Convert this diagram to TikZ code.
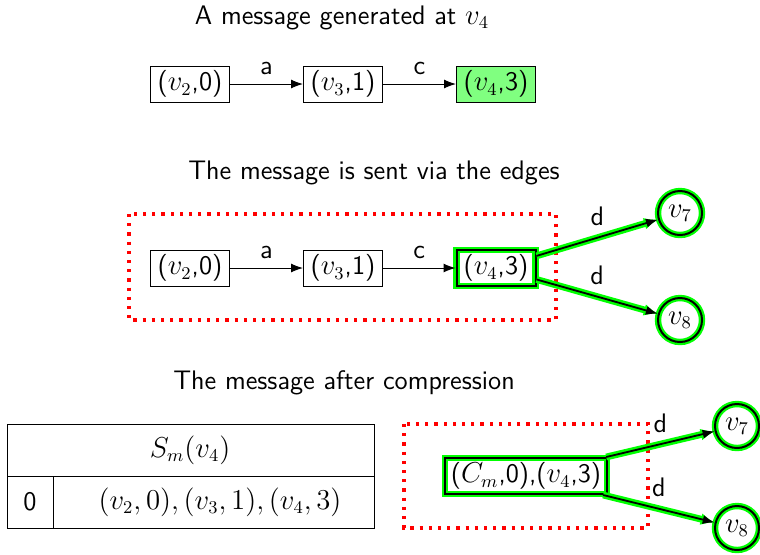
\documentclass[tikz,border=0pt]{standalone}
\usetikzlibrary{arrows.meta}
\renewcommand{\familydefault}{\sfdefault}
\begin{document}
\begin{tikzpicture}[x=0.5pt,y=-0.5pt,
  every node/.style={font=\fontsize{13.4}{16}\selectfont},
  pair/.style={draw, line width=0.5pt, minimum width=39.5pt, minimum height=18pt, inner sep=2pt},
  fresh/.style={pair, fill=green!50},
  glow/.style={preaction={draw=green, line width=3.2pt}, line width=1pt},
  vertex/.style={circle, draw, glow, minimum size=22pt, inner sep=0pt},
  hop/.style={-{Latex[length=6pt,width=4.5pt]}, line width=0.5pt},
  hophl/.style={-{Latex[length=6pt,width=4.5pt]}, line width=0.9pt,
    preaction={draw=green, line width=3.4pt, -{Latex[length=7pt,width=6pt]}}},
  frame/.style={draw=red, line width=1.6pt, dash pattern=on 1.6pt off 3pt},
  caption/.style={inner sep=0pt}]
\useasboundingbox (0,0) rectangle (760,554);

% first row: where the message starts
\node[caption] (t1) at (342,18) {A message generated at $v_4$};
\node[pair]  (a2) at (190,84) {($v_2$,0)};
\node[pair]  (a3) at (343,84) {($v_3$,1)};
\node[fresh] (a4) at (496,84) {($v_4$,3)};
\draw[hop] (a2) -- node[above=1pt] {a} (a3);
\draw[hop] (a3) -- node[above=1pt] {c} (a4);

% second row: forwarding along the out-edges
\node[caption] (t2) at (374,173) {The message is sent via the edges};
\draw[frame] (129,214) rectangle (556,320);
\node[pair]       (b2) at (190,268) {($v_2$,0)};
\node[pair]       (b3) at (343,268) {($v_3$,1)};
\node[pair, glow] (b4) at (496,268) {($v_4$,3)};
\node[vertex] (b7) at (680,213) {$v_7$};
\node[vertex] (b8) at (680,320) {$v_8$};
\draw[hop] (b2) -- node[above=1pt] {a} (b3);
\draw[hop] (b3) -- node[above=1pt] {c} (b4);
\draw[hophl] (b4) -- node[above=2pt] {d} (b7);
\draw[hophl] (b4) -- node[above=2pt] {d} (b8);

% third row: compressed form
\node[caption] (t3) at (344,383) {The message after compression};
\draw[line width=0.5pt] (7,424) rectangle (374,528);
\draw[line width=0.5pt] (7,476) -- (374,476);
\draw[line width=0.5pt] (53,476) -- (53,528);
\node (sm) at (190,450) {$S_m(v_4)$};
\node (s0) at (30,502) {0};
\node (sl) at (220,502) {$(v_2,0),(v_3,1),(v_4,3)$};

\draw[frame] (404,424) rectangle (648,528);
\node[pair, glow, inner xsep=3pt] (c4) at (526,476) {($C_m$,0),($v_4$,3)};
\node[vertex] (c7) at (737,426) {$v_7$};
\node[vertex] (c8) at (737,528) {$v_8$};
\draw[hophl] (c4) -- node[above=2pt] {d} (c7);
\draw[hophl] (c4) -- node[above=2pt] {d} (c8);
\end{tikzpicture}
\end{document}
